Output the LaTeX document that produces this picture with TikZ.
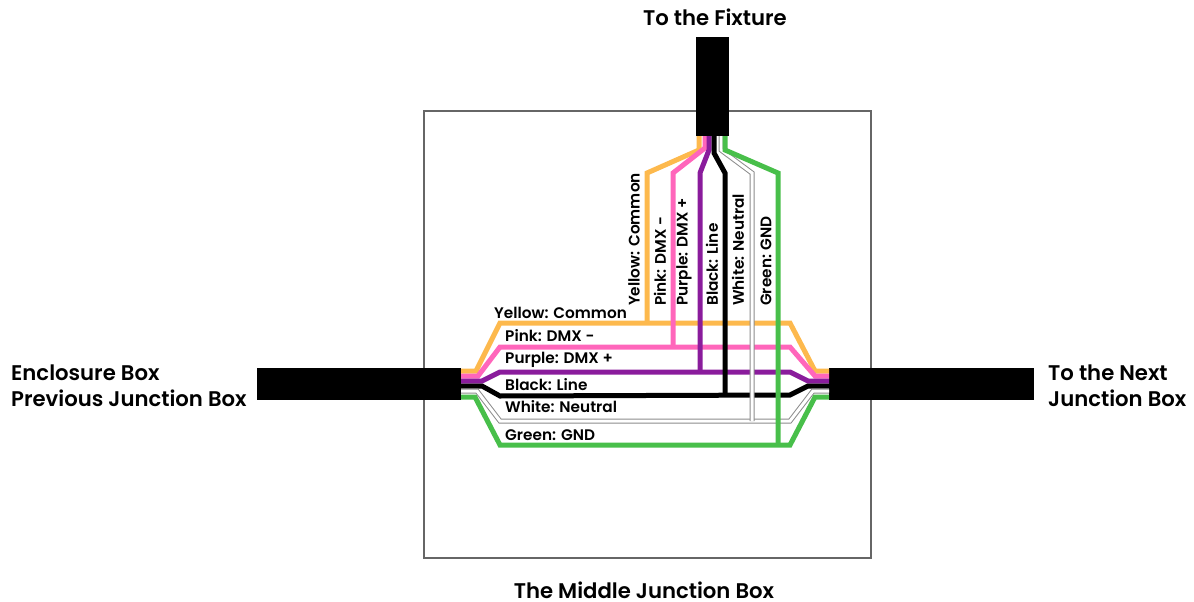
\documentclass[tikz,border=0pt]{standalone}
\usepackage{fontspec}
\setmainfont{Poppins SemiBold}
\usetikzlibrary{positioning}
\definecolor{wireyellow}{HTML}{FDB94D}
\definecolor{wirepink}{HTML}{FF66BB}
\definecolor{wirepurple}{HTML}{8A1C9C}
\definecolor{wiregreen}{HTML}{48BF4A}
\tikzset{
  wire/.style={line width=5pt},
  whitewire/.style={draw=black!45,line width=1pt,double=white,double distance=3pt},
  cable/.style={fill=black,inner sep=0pt,minimum width=#1},
  wirelabel/.style={inner sep=0pt,anchor=west,font=\fontsize{15.3}{15}\selectfont},
  uplabel/.style={wirelabel,rotate=90},
  headlabel/.style={inner sep=0pt,align=left,font=\fontsize{21.2}{26}\selectfont}
}

\begin{document}
\begin{tikzpicture}[x=1pt,y=-1pt]
  \useasboundingbox (0,0) rectangle (1194,602);

  \node[draw=black!60,line width=1.5pt,minimum width=447pt,minimum height=447pt,inner sep=0pt] (jbox) at (647.5,334.5) {};

  % the three cables
  \node[cable=204pt,minimum height=32pt] (prevcable) at (359,384) {};
  \node[cable=205pt,minimum height=32pt] (nextcable) at (931.5,384) {};
  \node[cable=33pt,minimum height=99pt] (fixcable) at (712.5,86.5) {};

  % wires: left end, bends, right end
  \foreach \name/\col/\ya/\xa/\yb/\xb in {
    yellow/wireyellow/371/476/323/815,
    pink/wirepink/376/478/347/815,
    purple/wirepurple/381/482/372/808,
    green/wiregreen/397/475/445/815} {
    \coordinate (\name L) at (461,\ya);
    \coordinate (\name R) at (829,\ya);
    \draw[wire,draw=\col] (\name L) -- (\xa,\ya) -- (500,\yb) -- (790,\yb) -- (\xb,\ya) -- (\name R);
  }
  \coordinate (blackL) at (461,386);
  \coordinate (blackR) at (829,386);
  \draw[wire] (blackL) -- (482,386) -- (500,396) -- (790,395) -- (808,386) -- (blackR);
  \coordinate (whiteL) at (461,391);
  \coordinate (whiteR) at (829,391);
  \draw[whitewire] (whiteL) -- (477,391) -- (500,421) -- (790,421) -- (813,391) -- (whiteR);

  % drops from the fixture
  \foreach \name/\col/\xa/\ya/\xb/\yb in {
    yellow/wireyellow/699/150/647/323,
    pink/wirepink/705/148/673/347,
    purple/wirepurple/709/150/700/372,
    black/black/714/153/725/395} {
    \coordinate (\name T) at (\xa,136);
    \draw[wire,draw=\col] (\name T) -- (\xa,\ya) -- (\xb,173) -- (\xb,\yb);
  }
  \coordinate (whiteT) at (721,136);
  \draw[whitewire] (whiteT) -- (721,150) -- (752,173) -- (752,421);
  \coordinate (greenT) at (725,136);
  \draw[wire,draw=wiregreen] (greenT) -- (725,150) -- (778,173) -- (778,445);

  % labels on the run
  \node[wirelabel] (lyellow) at (494,313) {Yellow: Common};
  \node[wirelabel] (lpink) at (505,336) {Pink: DMX -};
  \node[wirelabel] (lpurple) at (505,360) {Purple: DMX +};
  \node[wirelabel] (lblack) at (505,385) {Black: Line};
  \node[wirelabel] (lwhite) at (505,407) {White: Neutral};
  \node[wirelabel] (lgreen) at (505,435) {Green: GND};

  % labels on the drops
  \node[uplabel] (uyellow) at (634,306) {Yellow: Common};
  \node[uplabel] (upink) at (660,306) {Pink: DMX -};
  \node[uplabel] (upurple) at (684,306) {Purple: DMX +};
  \node[uplabel] (ublack) at (712,306) {Black: Line};
  \node[uplabel] (uwhite) at (738,306) {White: Neutral};
  \node[uplabel] (ugreen) at (766,306) {Green: GND};

  \node[headlabel] (tofix) at (715,17) {To the Fixture};
  \node[headlabel,anchor=west] (enclosure) at (11,386) {Enclosure Box\\Previous Junction Box};
  \node[headlabel,anchor=west] (tonext) at (1048,386) {To the Next\\Junction Box};
  \node[headlabel] (middle) at (644,590) {The Middle Junction Box};
\end{tikzpicture}
\end{document}
